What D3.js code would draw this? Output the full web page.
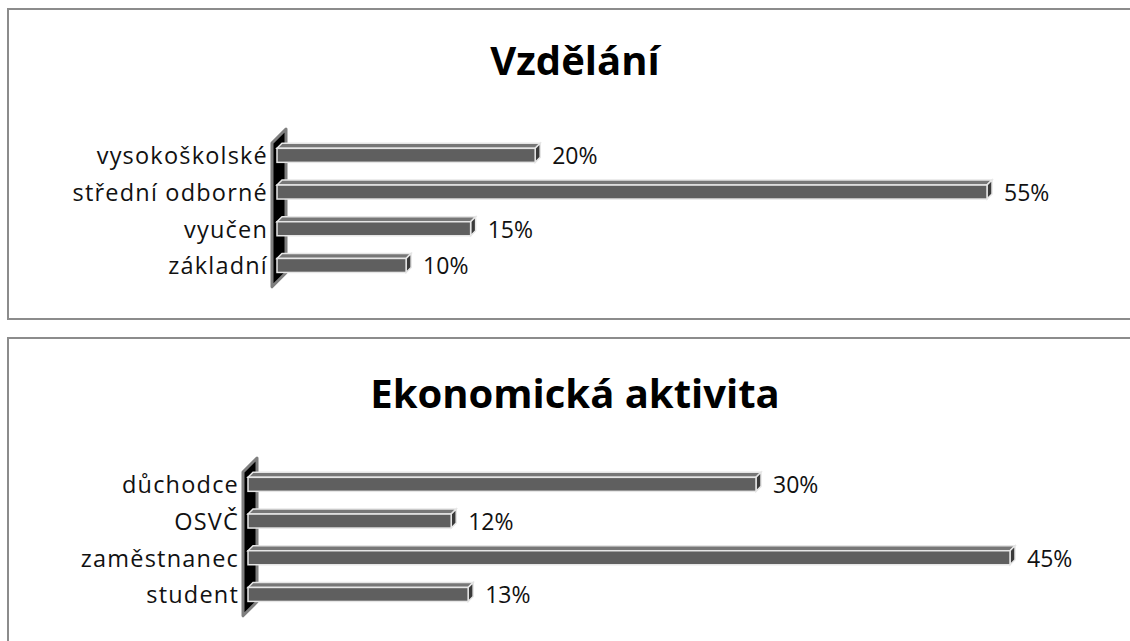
<html>
  <head>
    <script src="https://d3js.org/d3.v7.min.js"></script>
  </head>
  <style type="text/css">
    body { margin: 0; background: #fff; }
    svg { font-family: "Open Sans", Lato, sans-serif; }
    .title { font-size: 40px; font-weight: bold; fill: #000; }
    .cat { font-size: 23.5px; fill: #111; letter-spacing: 1.2px; }
    .val { font-size: 23px; fill: #111; }
  </style>
  <body>
    <div id="chart"></div>
  </body>
  <script type="text/javascript">
    // top chart
    var eduTitle = "Vzdělání";
    var eduCategories = ["vysokoškolské", "střední odborné", "vyučen", "základní"];
    var eduValues = [20, 55, 15, 10];

    // bottom chart
    var ecoTitle = "Ekonomická aktivita";
    var ecoCategories = ["důchodce", "OSVČ", "zaměstnanec", "student"];
    var ecoValues = [30, 12, 45, 13];

    var W = 1130, H = 641;

    var svg = d3.select("#chart").append("svg")
      .attr("width", W)
      .attr("height", H);

    var depth = 5;      // bar 3d offset
    var wallDepth = 14; // side wall offset

    function drawChart(opt) {
      var g = svg.append("g").attr("transform", `translate(0, ${opt.top})`);

      // frame
      g.append("rect")
        .attr("x", 8).attr("y", 0)
        .attr("width", W + 20).attr("height", opt.boxH)
        .attr("fill", "#fff")
        .attr("stroke", "#8c8c8c")
        .attr("stroke-width", 2);

      g.append("text")
        .attr("class", "title")
        .attr("x", 575).attr("y", opt.titleY)
        .attr("text-anchor", "middle")
        .text(opt.title);

      var x = d3.scaleLinear()
        .domain([0, opt.xMax])
        .range([opt.x0, opt.x1]);

      var step = 36.7;
      var y = d3.scaleBand()
        .domain(opt.categories)
        .range([opt.plotTop, opt.plotTop + step * opt.categories.length])
        .paddingInner(0.4)
        .paddingOuter(0.2);

      // side wall
      var wx = opt.x0 - 5;
      var wTop = opt.plotTop - 5, wBot = opt.plotTop + step * opt.categories.length + 4;
      g.append("path")
        .attr("d", `M${wx},${wTop + wallDepth - 2} L${wx + wallDepth},${wTop - 2} L${wx + wallDepth},${wBot - wallDepth} L${wx},${wBot} Z`)
        .attr("fill", "#000")
        .attr("stroke", "#7f7f7f")
        .attr("stroke-width", 3)
        .attr("stroke-linejoin", "round");

      var bars = g.selectAll(".bar")
        .data(opt.values)
        .enter().append("g")
        .attr("class", "bar");

      var bh = 14;
      function by(d, i) { return y(opt.categories[i]) + depth; }

      // top face
      bars.append("path")
        .attr("d", (d, i) => {
          var yy = by(d, i), xa = x(0), xb = x(d);
          return `M${xa},${yy} L${xa + depth},${yy - depth} L${xb + depth},${yy - depth} L${xb},${yy} Z`;
        })
        .attr("fill", "#777")
        .attr("stroke", "#e6e6e6")
        .attr("stroke-width", 1.5);

      // right face
      bars.append("path")
        .attr("d", (d, i) => {
          var yy = by(d, i), xb = x(d);
          return `M${xb},${yy} L${xb + depth},${yy - depth} L${xb + depth},${yy - depth + bh} L${xb},${yy + bh} Z`;
        })
        .attr("fill", "#3a3a3a")
        .attr("stroke", "#e6e6e6")
        .attr("stroke-width", 1.5);

      // front face
      bars.append("rect")
        .attr("x", x(0))
        .attr("y", (d, i) => by(d, i))
        .attr("width", d => x(d) - x(0))
        .attr("height", bh)
        .attr("fill", "#5f5f5f")
        .attr("stroke", "#e6e6e6")
        .attr("stroke-width", 1.5);

      bars.append("text")
        .attr("class", "val")
        .attr("x", d => x(d) + depth + 12)
        .attr("y", (d, i) => by(d, i) + 16)
        .text(d => d + "%");

      g.selectAll(".cat")
        .data(opt.categories)
        .enter().append("text")
        .attr("class", "cat")
        .attr("x", opt.x0 - 9)
        .attr("y", (d, i) => by(0, i) + 16)
        .attr("text-anchor", "end")
        .text(d => d);
    }

    drawChart({
      top: 9, boxH: 310, title: eduTitle, titleY: 66,
      categories: eduCategories, values: eduValues,
      xMax: 55, x0: 277, x1: 987, plotTop: 127
    });

    drawChart({
      top: 338, boxH: 320, title: ecoTitle, titleY: 70,
      categories: ecoCategories, values: ecoValues,
      xMax: 45, x0: 248, x1: 1010, plotTop: 127
    });
  </script>
</html>
